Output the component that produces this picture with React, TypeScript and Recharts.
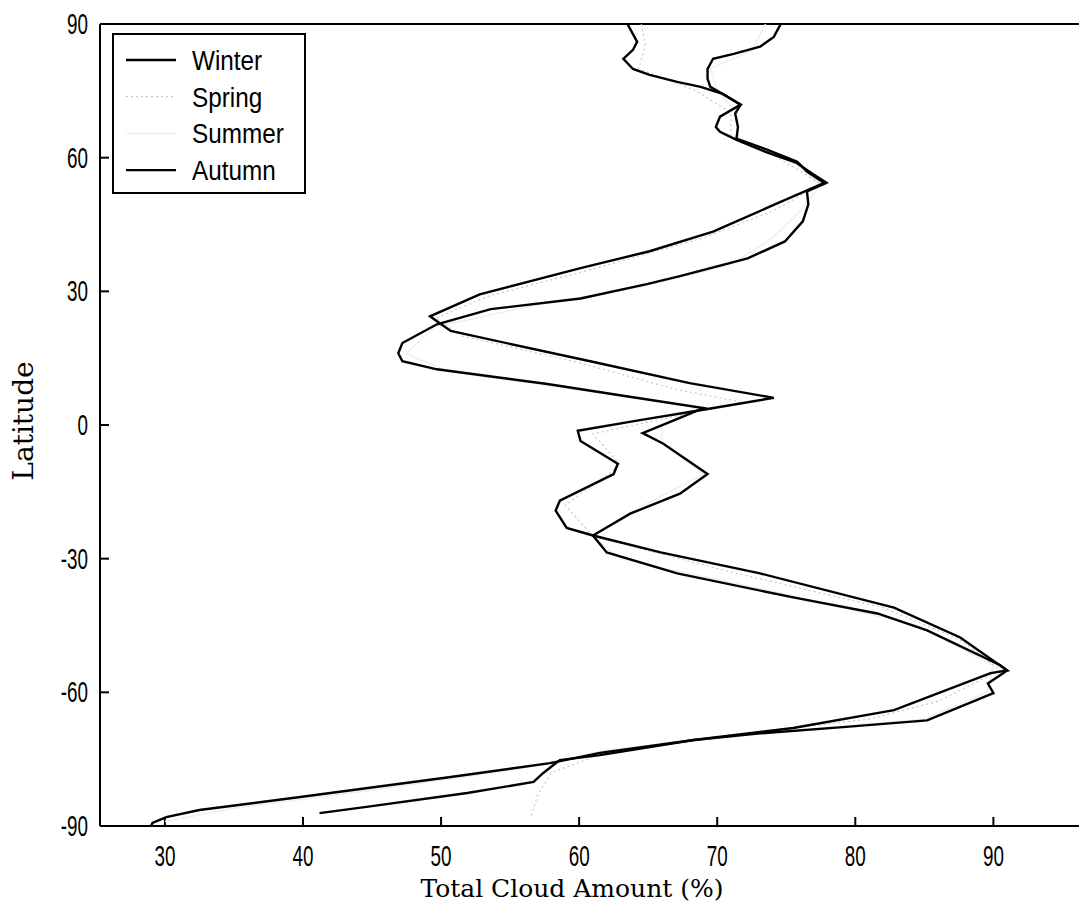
import { Legend, Scatter, ScatterChart, XAxis, YAxis } from "recharts";

// [latitude, total cloud amount %], north to south
type Pt = [number, number];

const WINTER: Pt[] = [
  [90, 74.6], [87.1, 74.1], [84.9, 73.1], [83.3, 71.2], [82.2, 69.7], [79.9, 69.3],
  [77.7, 69.3], [75.9, 69.5], [74.3, 70.4], [71.9, 71.7], [69.9, 71.3], [66.9, 71.5],
  [64.3, 71.4], [61.8, 73.6], [59.1, 75.8], [56.9, 76.5], [54.2, 77.8], [52.4, 76.5],
  [49.5, 76.6], [45.7, 76.2], [41.2, 74.9], [37.4, 72.2], [33.4, 67.3], [31.6, 64.9],
  [28.4, 60.1], [26.0, 53.6], [22.6, 49.7], [18.4, 47.2], [16.1, 46.9], [14.3, 47.2],
  [12.5, 49.7], [9.2, 57.7], [6.5, 63.3], [3.8, 69.0], [1.6, 67.3], [-1.8, 64.6],
  [-4.2, 66.1], [-11.0, 69.3], [-15.4, 67.3], [-19.9, 63.7], [-24.8, 61.0], [-28.6, 62.0],
  [-33.3, 67.1], [-38.7, 75.5], [-42.3, 81.6], [-46.1, 85.2], [-53.9, 90.5], [-55.1, 91.0],
  [-58.0, 89.6], [-60.2, 90.0], [-66.3, 85.2], [-67.8, 79.1], [-69.2, 73.1], [-70.7, 68.3],
  [-73.6, 61.5], [-75.9, 57.9], [-79.0, 50.7], [-83.5, 39.8], [-86.4, 32.5], [-88.0, 30.1],
  [-89.3, 29.1], [-90, 29.0],
];

const SPRING: Pt[] = [
  [90, 64.5], [85, 64.8], [80, 64.3], [75, 68.5], [70, 71], [65, 71], [61, 73.8], [57, 76],
  [54, 77.5], [48, 74], [42, 69], [35, 61], [29, 53.5], [24, 49.6], [20, 51.5], [14, 60],
  [8, 67], [5, 72], [2, 67], [-2, 61], [-9, 63], [-18, 59], [-25, 61], [-33, 71], [-41, 82],
  [-48, 87.5], [-55, 90.5], [-62, 86], [-66, 81], [-70, 70], [-74, 61.5], [-78, 58],
  [-83, 57], [-88, 56.5],
];

const SUMMER: Pt[] = [
  [90, 73.5], [84, 72.5], [80, 69.5], [75, 70], [70, 71.5], [64, 71.5], [59, 75.5],
  [54, 77.5], [48, 76], [42, 74], [36, 71], [31, 64.5], [27, 57], [22, 49.5], [16, 47.5],
  [12, 50.5], [7, 62], [4, 68.5], [0, 66], [-4, 66], [-11, 69], [-20, 63.5], [-25, 61],
  [-30, 63], [-38, 75], [-45, 84.5], [-54, 90], [-60, 89.5], [-66, 85], [-69, 74], [-73, 62],
  [-77, 56], [-82, 45], [-86, 35], [-89, 30],
];

const AUTUMN: Pt[] = [
  [90, 63.5], [86.0, 64.2], [84.2, 63.9], [82.2, 63.2], [79.9, 63.9], [78.6, 65.1],
  [77.0, 67.1], [75.9, 68.8], [74.3, 70.4], [71.9, 71.7], [69.2, 70.2], [66.9, 69.9],
  [65.8, 70.2], [64.0, 71.4], [61.3, 73.5], [58.9, 75.7], [56.4, 76.9], [54.4, 77.9],
  [54.0, 77.5], [49.0, 73.8], [43.4, 69.7], [39.0, 65.1], [35.2, 60.1], [29.3, 52.8],
  [24.4, 49.2], [23.3, 49.7], [21.1, 50.7], [14.3, 60.8], [9.4, 68.0], [6.1, 74.1],
  [3.6, 69.3], [1.1, 64.4], [-1.3, 59.9], [-3.6, 60.1], [-8.7, 62.8], [-11.0, 62.5],
  [-17.0, 58.6], [-19.2, 58.3], [-23.1, 59.1], [-24.8, 61.0], [-28.6, 65.9], [-33.3, 73.1],
  [-41.0, 82.8], [-47.7, 87.6], [-55.1, 91.0], [-55.7, 89.8], [-64.0, 82.8], [-68.0, 75.5],
  [-70.7, 68.3], [-74.1, 61.5], [-75.2, 58.6], [-78.1, 57.4], [-80.1, 56.7], [-82.6, 51.9],
  [-85.7, 44.6], [-87.1, 41.2],
];

const CLOUD_TICKS = [30, 40, 50, 60, 70, 80, 90];
const LAT_TICKS = [-90, -60, -30, 0, 30, 60, 90];

const SERIES = [
  { name: "Summer", data: SUMMER, color: "#efefef", width: 1.5, dash: undefined },
  { name: "Spring", data: SPRING, color: "#c6c6c6", width: 1.2, dash: "2 3" },
  { name: "Winter", data: WINTER, color: "#000", width: 2.4, dash: undefined },
  { name: "Autumn", data: AUTUMN, color: "#000", width: 2.4, dash: undefined },
];
const LEGEND_ORDER = ["Winter", "Spring", "Summer", "Autumn"];

const W = 1079;
const H = 915;
const TICK_FONT = '"Liberation Sans", Arial, sans-serif';
const SERIF = '"DejaVu Serif", "Liberation Serif", serif';

function BottomTick({ x, y, payload }: any) {
  return (
    <g transform={`translate(${x},${y}) scale(0.65,1)`}>
      <text x={0} y={0} dy={21} textAnchor="middle" fontFamily={TICK_FONT} fontSize={29} fill="#000">
        {payload.value}
      </text>
    </g>
  );
}

function LeftTick({ x, y, payload }: any) {
  return (
    <g transform={`translate(${x},${y}) scale(0.65,1)`}>
      <text x={0} y={0} dy={10} textAnchor="end" fontFamily={TICK_FONT} fontSize={29} fill="#000">
        {payload.value}
      </text>
    </g>
  );
}

function XTitle() {
  return (
    <text x={572} y={897} textAnchor="middle" fontFamily={SERIF} fontSize={25} fill="#000">
      Total Cloud Amount (%)
    </text>
  );
}

function YTitle() {
  return (
    <text
      x={33}
      y={421}
      transform="rotate(-90, 33, 421)"
      textAnchor="middle"
      fontFamily={SERIF}
      fontSize={28}
      fill="#000"
    >
      Latitude
    </text>
  );
}

function LegendBox() {
  return (
    <svg width={194} height={161} style={{ display: "block" }}>
      <rect x={1} y={1} width={192} height={159} fill="#fff" stroke="#000" strokeWidth={2} />
      {LEGEND_ORDER.map((name, i) => {
        const s = SERIES.find((d) => d.name === name)!;
        const ly = 27 + i * 36.7;
        return (
          <g key={name}>
            <line
              x1={14}
              x2={64}
              y1={ly}
              y2={ly}
              stroke={s.color}
              strokeWidth={s.width}
              strokeDasharray={s.dash}
            />
            <g transform={`translate(80,${ly + 10}) scale(0.9,1)`}>
              <text x={0} y={0} fontFamily={TICK_FONT} fontSize={27} fill="#000">
                {name}
              </text>
            </g>
          </g>
        );
      })}
    </svg>
  );
}

const noDot = () => <g />;

export default function App() {
  return (
    <div style={{ position: "absolute", left: 0, top: 0, width: W, height: H, background: "#fff" }}>
      <ScatterChart width={W} height={H} margin={{ top: 0, right: 0, bottom: 0, left: 0 }}>
        <XAxis
          xAxisId="top"
          orientation="top"
          type="number"
          dataKey="cloud"
          height={24}
          domain={[25.3, 96.2]}
          allowDataOverflow
          ticks={CLOUD_TICKS}
          tick={false}
          tickSize={-9}
          axisLine={{ stroke: "#000", strokeWidth: 2 }}
          tickLine={{ stroke: "#000", strokeWidth: 2 }}
        />
        <XAxis
          xAxisId="bottom"
          orientation="bottom"
          type="number"
          dataKey="cloud"
          height={89}
          domain={[25.3, 96.2]}
          allowDataOverflow
          ticks={CLOUD_TICKS}
          tick={<BottomTick />}
          tickSize={-9}
          tickMargin={28}
          axisLine={{ stroke: "#000", strokeWidth: 2 }}
          tickLine={{ stroke: "#000", strokeWidth: 2 }}
          label={<XTitle />}
        />
        <YAxis
          yAxisId="left"
          orientation="left"
          type="number"
          dataKey="lat"
          width={100}
          domain={[-90, 90]}
          allowDataOverflow
          ticks={LAT_TICKS}
          tick={<LeftTick />}
          tickSize={-9}
          tickMargin={21}
          axisLine={{ stroke: "#000", strokeWidth: 2 }}
          tickLine={{ stroke: "#000", strokeWidth: 2 }}
          label={<YTitle />}
        />
        <YAxis
          yAxisId="right"
          orientation="right"
          type="number"
          dataKey="lat"
          width={0}
          domain={[-90, 90]}
          allowDataOverflow
          ticks={LAT_TICKS}
          tick={false}
          tickSize={-9}
          axisLine={false}
          tickLine={{ stroke: "#000", strokeWidth: 2 }}
        />
        {SERIES.map((s) => (
          <Scatter
            key={s.name}
            name={s.name}
            xAxisId="bottom"
            yAxisId="left"
            data={s.data.map(([lat, cloud]) => ({ lat, cloud }))}
            fill={s.color}
            line={{ stroke: s.color, strokeWidth: s.width, strokeDasharray: s.dash, fill: "none" }}
            lineJointType="linear"
            shape={noDot}
            legendType="none"
            isAnimationActive={false}
          />
        ))}
        <Legend
          layout="vertical"
          align="center"
          verticalAlign="middle"
          wrapperStyle={{ left: 112, top: 33, width: 194, height: 161 }}
          content={() => <LegendBox />}
        />
      </ScatterChart>
    </div>
  );
}
